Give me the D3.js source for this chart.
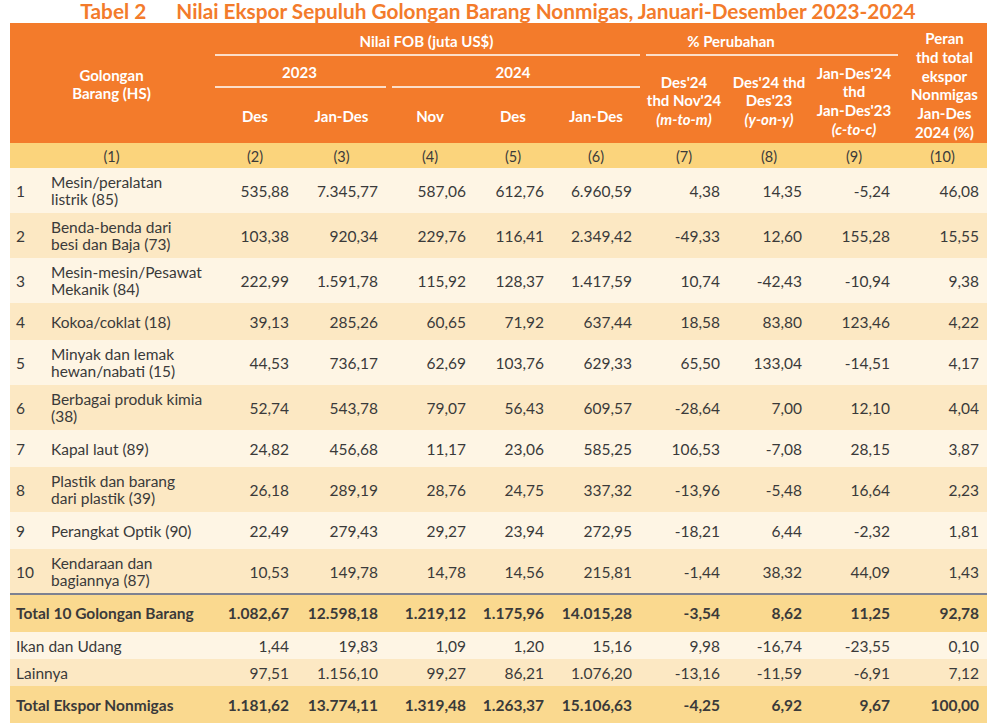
<!DOCTYPE html>
<html lang="id">
<head>
<meta charset="UTF-8">
<title>Tabel 2 Nilai Ekspor Sepuluh Golongan Barang Nonmigas</title>
<script src="https://d3js.org/d3.v7.min.js"></script>
<style>
  body { margin: 0; background: #fff; font-family: Lato, "Open Sans", sans-serif; }
  svg text { font-family: Lato, "Open Sans", sans-serif; }
</style>
</head>
<body>
<div id="table"></div>
<script>
// ---- data ----
const rowNo = ["1", "2", "3", "4", "5", "6", "7", "8", "9", "10", "", "", "", ""];
const groups = [
  ["Mesin/peralatan", "listrik (85)"],
  ["Benda-benda dari", "besi dan Baja (73)"],
  ["Mesin-mesin/Pesawat", "Mekanik (84)"],
  ["Kokoa/coklat (18)"],
  ["Minyak dan lemak", "hewan/nabati (15)"],
  ["Berbagai produk kimia", "(38)"],
  ["Kapal laut (89)"],
  ["Plastik dan barang", "dari plastik (39)"],
  ["Perangkat Optik (90)"],
  ["Kendaraan dan", "bagiannya (87)"],
  ["Total 10 Golongan Barang"],
  ["Ikan dan Udang"],
  ["Lainnya"],
  ["Total Ekspor Nonmigas"]
];
const rowKind = ["item", "item", "item", "item", "item", "item", "item", "item", "item", "item",
                 "total", "minor", "minor", "total"];

const des2023    = [535.88, 103.38, 222.99, 39.13, 44.53, 52.74, 24.82, 26.18, 22.49, 10.53, 1082.67, 1.44, 97.51, 1181.62];
const janDes2023 = [7345.77, 920.34, 1591.78, 285.26, 736.17, 543.78, 456.68, 289.19, 279.43, 149.78, 12598.18, 19.83, 1156.10, 13774.11];
const nov2024    = [587.06, 229.76, 115.92, 60.65, 62.69, 79.07, 11.17, 28.76, 29.27, 14.78, 1219.12, 1.09, 99.27, 1319.48];
const des2024    = [612.76, 116.41, 128.37, 71.92, 103.76, 56.43, 23.06, 24.75, 23.94, 14.56, 1175.96, 1.20, 86.21, 1263.37];
const janDes2024 = [6960.59, 2349.42, 1417.59, 637.44, 629.33, 609.57, 585.25, 337.32, 272.95, 215.81, 14015.28, 15.16, 1076.20, 15106.63];
const mtm        = [4.38, -49.33, 10.74, 18.58, 65.50, -28.64, 106.53, -13.96, -18.21, -1.44, -3.54, 9.98, -13.16, -4.25];
const yoy        = [14.35, 12.60, -42.43, 83.80, 133.04, 7.00, -7.08, -5.48, 6.44, 38.32, 8.62, -16.74, -11.59, 6.92];
const ctc        = [-5.24, 155.28, -10.94, 123.46, -14.51, 12.10, 28.15, 16.64, -2.32, 44.09, 11.25, -23.55, -6.91, 9.67];
const share      = [46.08, 15.55, 9.38, 4.22, 4.17, 4.04, 3.87, 2.23, 1.81, 1.43, 92.78, 0.10, 7.12, 100.00];

const valueColumns = [des2023, janDes2023, nov2024, des2024, janDes2024, mtm, yoy, ctc, share];
const colNumbers = ["(1)", "(2)", "(3)", "(4)", "(5)", "(6)", "(7)", "(8)", "(9)", "(10)"];
const subHeads = ["Des", "Jan-Des", "Nov", "Des", "Jan-Des"];

// ---- layout ----
const W = 999, H = 727;
const orange = "#f37b2b", band = "#fbd47c";
const fills = { light: "#fef5e4", dark: "#fce8c3", total: "#fad98f" };
const ink = "#3a3a3a";
const bodySize = 15.5;

const colEdges = [10, 213, 297, 386, 474, 552, 640, 728, 810, 898, 987];
const x = d3.scaleOrdinal().domain(d3.range(colEdges.length)).range(colEdges);
const colMid = i => (x(i) + x(i + 1)) / 2;

const heights = rowKind.map((k, i) => k === "minor" ? 27 : k === "total" ? (i === 10 ? 38 : 37) : (groups[i].length > 1 ? 45 : 37));
const tops = [];
heights.reduce((acc, h, i) => { tops[i] = acc; return acc + h; }, 168);
const y = d3.scaleOrdinal().domain(d3.range(rowKind.length)).range(tops);

const fmt = d3.formatLocale({ decimal: ",", thousands: ".", grouping: [3], currency: ["", ""], minus: "-" }).format(",.2f");

const svg = d3.select("#table").append("svg").attr("width", W).attr("height", H);

// title
const title = svg.append("text")
  .attr("x", 498).attr("y", 18.5)
  .attr("text-anchor", "middle")
  .attr("fill", orange)
  .attr("font-weight", 700)
  .attr("font-size", 20.8);
title.append("tspan").text("Tabel 2");
title.append("tspan").attr("dx", 30).text("Nilai Ekspor Sepuluh Golongan Barang Nonmigas, Januari-Desember 2023-2024");

// header block
svg.append("rect").attr("x", x(0)).attr("y", 23).attr("width", x(10) - x(0)).attr("height", 120).attr("fill", orange);
svg.append("rect").attr("x", x(0)).attr("y", 143).attr("width", x(10) - x(0)).attr("height", 25).attr("fill", band);

const head = svg.append("g").attr("fill", "#fff").attr("font-weight", 700).attr("font-size", 15)
  .attr("text-anchor", "middle").attr("dominant-baseline", "central");

function stack(cx, ys, lines, italicLast) {
  lines.forEach((t, i) => {
    head.append("text").attr("x", cx).attr("y", ys[i]).text(t)
      .attr("font-style", italicLast && i === lines.length - 1 ? "italic" : null);
  });
}
stack(colMid(0), [75, 93], ["Golongan", "Barang (HS)"]);
stack((x(1) + x(6)) / 2, [41], ["Nilai FOB (juta US$)"]);
stack((x(1) + x(3)) / 2, [72], ["2023"]);
stack((x(3) + x(6)) / 2, [72], ["2024"]);
subHeads.forEach((t, i) => stack(colMid(i + 1), [116], [t]));
stack(731, [41], ["% Perubahan"]);
stack(colMid(6), [82, 100, 119], ["Des'24", "thd Nov'24", "(m-to-m)"], true);
stack(colMid(7), [82, 100, 119], ["Des'24 thd", "Des'23", "(y-on-y)"], true);
stack(colMid(8), [73, 91, 110, 129], ["Jan-Des'24", "thd", "Jan-Des'23", "(c-to-c)"], true);
stack(colMid(9) + 2, [38, 57, 76, 94, 113, 132], ["Peran", "thd total", "ekspor", "Nonmigas", "Jan-Des", "2024 (%)"]);

// white rules under group headings
const rules = [[x(1) + 2, x(6), 55], [x(6) + 6, x(9), 55], [x(1) + 2, x(3), 87], [x(3) + 6, x(6), 87]];
svg.append("g").selectAll("line").data(rules).join("line")
  .attr("x1", d => d[0]).attr("x2", d => d[1]).attr("y1", d => d[2]).attr("y2", d => d[2])
  .attr("stroke", "#fff").attr("stroke-width", 1.5);

// column numbers
svg.append("g").selectAll("text").data(colNumbers).join("text")
  .attr("x", (d, i) => colMid(i)).attr("y", 156)
  .attr("text-anchor", "middle").attr("dominant-baseline", "central")
  .attr("font-size", 14.5).attr("fill", ink).text(d => d);

// body rows
const rows = svg.append("g").selectAll("g").data(rowKind).join("g")
  .attr("transform", (d, i) => `translate(0,${y(i)})`);

rows.append("rect")
  .attr("x", x(0)).attr("width", x(10) - x(0))
  .attr("height", (d, i) => heights[i])
  .attr("fill", (d, i) => d === "total" ? fills.total : (i === 12 || (i < 10 && i % 2 === 1)) ? fills.dark : fills.light);

rows.append("text")
  .attr("x", 16).attr("y", (d, i) => heights[i] / 2)
  .attr("dominant-baseline", "central").attr("font-size", bodySize).attr("fill", ink)
  .text((d, i) => rowNo[i]);

rows.each(function (d, i) {
  const g = d3.select(this);
  const lines = groups[i];
  const left = d === "item" ? 51 : 16;
  lines.forEach((t, j) => {
    g.append("text")
      .attr("x", left)
      .attr("y", heights[i] / 2 + (j - (lines.length - 1) / 2) * 17.5)
      .attr("dominant-baseline", "central")
      .attr("font-size", bodySize)
      .attr("font-weight", d === "total" ? 700 : 400)
      .attr("fill", ink)
      .text(t);
  });
  valueColumns.forEach((col, c) => {
    g.append("text")
      .attr("x", x(c + 2) - 8)
      .attr("y", heights[i] / 2)
      .attr("text-anchor", "end")
      .attr("dominant-baseline", "central")
      .attr("font-size", bodySize)
      .attr("font-weight", d === "total" ? 700 : 400)
      .attr("fill", ink)
      .text(fmt(col[i]));
  });
});

// rule above the totals
svg.append("line")
  .attr("x1", x(0)).attr("x2", x(10))
  .attr("y1", y(10)).attr("y2", y(10))
  .attr("stroke", "#7d8191").attr("stroke-width", 2);
</script>
</body>
</html>
